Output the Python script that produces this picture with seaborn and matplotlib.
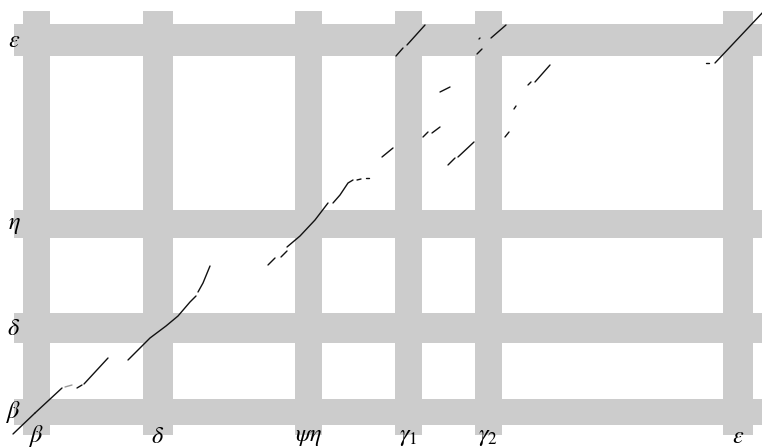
import numpy as np
import pandas as pd
import matplotlib
matplotlib.use("Agg")
import matplotlib.pyplot as plt
import seaborn as sns

sns.set_theme(style="white")
plt.rcParams["mathtext.fontset"] = "stix"

# Gene spans on the horizontal sequence (x) and the vertical sequence (y)
x_genes = [r"$\beta$", r"$\delta$", r"$\psi\eta$", r"$\gamma_{\mathit{1}}$",
           r"$\gamma_{\mathit{2}}$", r"$\varepsilon$"]
x_gene_start = [0.9, 12.9, 28.1, 38.1, 46.1, 70.9]
x_gene_end = [3.6, 15.9, 30.8, 40.8, 48.8, 73.9]

y_genes = [r"$\beta$", r"$\delta$", r"$\eta$", r"$\varepsilon$"]
y_gene_start = [1.0, 9.2, 19.7, 37.9]
y_gene_end = [3.6, 12.2, 22.5, 41.1]

x_seq_len = 76.0
y_seq_len = 42.4

# Aligned segments: one id per segment, with x / y positions of its points
seg_id = [1, 1, 2, 2, 3, 3, 4, 4, 5, 5,
          6, 6, 6, 6, 6, 6, 6, 6, 7, 7, 7,
          8, 8, 9, 9, 10, 10, 10, 10, 11, 11, 11, 11,
          12, 12, 13, 13, 14, 14, 15, 15, 16, 16,
          17, 17, 18, 18, 19, 19, 20, 20, 21, 21,
          22, 22, 23, 23, 24, 24, 25, 25, 26, 26,
          27, 27, 28, 28, 29, 29, 30, 30]
seg_x = [-0.1, 2.1, 2.1, 4.8, 5.1, 5.8, 6.3, 6.8, 7.0, 9.4,
         11.4, 12.6, 13.6, 14.4, 15.2, 16.4, 17.6, 18.2, 18.4, 18.9, 19.6,
         25.4, 26.1, 26.7, 27.3, 27.3, 28.6, 30.1, 31.4, 31.9, 32.6, 33.4, 33.9,
         34.3, 34.7, 35.2, 35.5, 36.8, 37.9, 38.2, 38.9, 39.3, 41.1,
         46.3, 46.8, 46.5, 46.6, 47.7, 49.2, 42.6, 43.6, 40.9, 41.4,
         41.8, 42.6, 43.4, 44.1, 44.4, 46.0, 49.1, 49.5, 50.0, 50.2,
         51.4, 51.7, 52.1, 53.6, 69.2, 69.5, 70.1, 75.1]
seg_y = [0.1, 2.2, 2.2, 4.7, 4.8, 5.0, 4.7, 5.0, 5.1, 7.7,
         7.5, 8.7, 9.7, 10.3, 10.9, 11.9, 13.3, 13.9, 14.3, 15.2, 16.9,
         17.0, 17.7, 17.8, 18.4, 18.8, 19.9, 21.5, 23.2, 23.2, 24.0, 25.2, 25.5,
         25.5, 25.6, 25.7, 25.7, 27.8, 28.7, 37.9, 38.7, 39.0, 41.0,
         38.1, 38.6, 39.6, 39.7, 39.7, 41.0, 34.3, 34.8, 29.8, 30.3,
         30.2, 30.8, 27.0, 27.7, 27.8, 29.3, 29.8, 30.3, 32.6, 32.9,
         35.0, 35.3, 35.3, 37.0, 37.2, 37.2, 37.2, 42.5]
# weaker hits are drawn in grey
weak_segments = [3]

hits = pd.DataFrame({"segment": seg_id, "x": seg_x, "y": seg_y})
hits["strength"] = np.where(hits["segment"].isin(weak_segments), "weak", "strong")

fig = plt.figure(figsize=(7.62, 4.48), dpi=100)
ax = fig.add_axes([0, 0, 1, 1])

band = "#cccccc"
x_start = np.array(x_gene_start)
x_end = np.array(x_gene_end)
y_start = np.array(y_gene_start)
y_end = np.array(y_gene_end)

# gene bands: columns for the x sequence, rows for the y sequence
ax.bar((x_start + x_end) / 2, y_seq_len, width=x_end - x_start, bottom=0,
       color=band, linewidth=0, zorder=0)
ax.barh((y_start + y_end) / 2, x_seq_len, height=y_end - y_start, left=0,
        color=band, linewidth=0, zorder=0)

sns.lineplot(data=hits, x="x", y="y", units="segment", estimator=None,
             sort=False, hue="strength",
             palette={"strong": "#111111", "weak": "#999999"},
             linewidth=1.0, ax=ax, zorder=3, legend=False)

# gene names
for name, s, e in zip(x_genes, x_start, x_end):
    ax.text((s + e) / 2, -0.05, name, ha="center", va="center",
            fontsize=17.5, color="black", zorder=4)
for name, s, e in zip(y_genes, y_start, y_end):
    ax.text(0.0, (s + e) / 2, name, ha="center", va="center",
            fontsize=17.5, color="black", zorder=4)

ax.set_xlim(-1.4, 74.8)
ax.set_ylim(-1.3, 43.5)
ax.set_axis_off()

fig.savefig("out.png", dpi=100, facecolor="white")
